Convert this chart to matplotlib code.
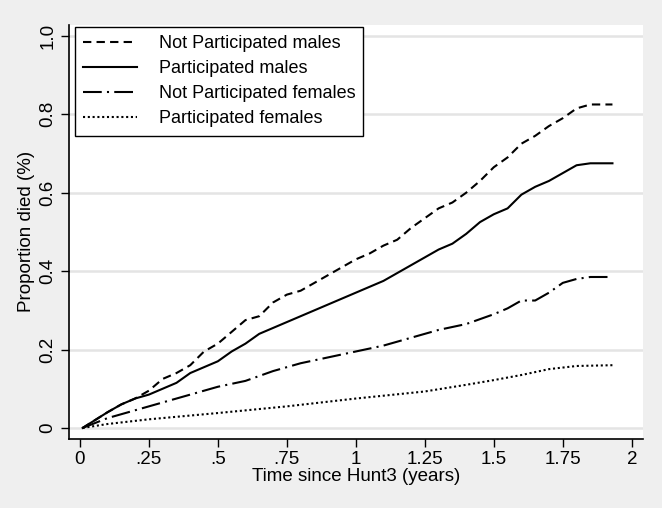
import matplotlib
matplotlib.use("Agg")
import matplotlib.pyplot as plt

plt.rcParams["font.family"] = ["Liberation Sans", "DejaVu Sans"]

# Kaplan-Meier style failure curves
t_np_m = [0.01, 0.1, 0.15, 0.2, 0.25, 0.3, 0.35, 0.4, 0.45, 0.5, 0.55, 0.6, 0.65, 0.7,
          0.75, 0.8, 0.85, 0.9, 0.95, 1.0, 1.05, 1.1, 1.15, 1.2, 1.25, 1.3, 1.35, 1.4,
          1.45, 1.5, 1.55, 1.6, 1.65, 1.7, 1.75, 1.8, 1.85, 1.93]
y_np_m = [0.0, 0.04, 0.06, 0.075, 0.095, 0.125, 0.14, 0.16, 0.195, 0.215, 0.245, 0.275,
          0.285, 0.32, 0.34, 0.35, 0.37, 0.39, 0.41, 0.43, 0.445, 0.465, 0.48, 0.51,
          0.535, 0.56, 0.575, 0.6, 0.63, 0.665, 0.69, 0.725, 0.745, 0.77, 0.79, 0.815,
          0.825, 0.825]

t_p_m = [0.01, 0.1, 0.15, 0.2, 0.25, 0.3, 0.35, 0.4, 0.45, 0.5, 0.55, 0.6, 0.65, 0.7,
         0.75, 0.8, 0.85, 0.9, 0.95, 1.0, 1.05, 1.1, 1.15, 1.2, 1.25, 1.3, 1.35, 1.4,
         1.45, 1.5, 1.55, 1.6, 1.65, 1.7, 1.75, 1.8, 1.85, 1.93]
y_p_m = [0.0, 0.04, 0.06, 0.075, 0.085, 0.1, 0.115, 0.14, 0.155, 0.17, 0.195, 0.215,
         0.24, 0.255, 0.27, 0.285, 0.3, 0.315, 0.33, 0.345, 0.36, 0.375, 0.395, 0.415,
         0.435, 0.455, 0.47, 0.495, 0.525, 0.545, 0.56, 0.595, 0.615, 0.63, 0.65, 0.67,
         0.675, 0.675]

t_np_f = [0.01, 0.1, 0.2, 0.25, 0.3, 0.4, 0.5, 0.6, 0.7, 0.75, 0.8, 0.9, 1.0, 1.1, 1.2,
          1.25, 1.3, 1.4, 1.5, 1.55, 1.6, 1.65, 1.7, 1.75, 1.8, 1.85, 1.93]
y_np_f = [0.0, 0.025, 0.045, 0.055, 0.065, 0.085, 0.105, 0.12, 0.145, 0.155, 0.165,
          0.18, 0.195, 0.21, 0.23, 0.24, 0.25, 0.265, 0.29, 0.305, 0.325, 0.325, 0.345,
          0.37, 0.38, 0.385, 0.385]

t_p_f = [0.01, 0.1, 0.25, 0.5, 0.75, 1.0, 1.25, 1.4, 1.5, 1.6, 1.7, 1.8, 1.93]
y_p_f = [0.0, 0.01, 0.022, 0.038, 0.055, 0.075, 0.093, 0.11, 0.122, 0.135, 0.15,
         0.158, 0.16]

x_ticks = [0, 0.25, 0.5, 0.75, 1, 1.25, 1.5, 1.75, 2]
x_ticklabels = ["0", ".25", ".5", ".75", "1", "1.25", "1.5", "1.75", "2"]
y_ticks = [0, 0.2, 0.4, 0.6, 0.8, 1.0]
y_ticklabels = ["0", "0.2", "0.4", "0.6", "0.8", "1.0"]

fig = plt.figure(figsize=(6.62, 5.08), dpi=100, facecolor="#efefef")
ax = fig.add_axes([0.104, 0.136, 0.867, 0.815])
ax.set_facecolor("white")

lw = 1.5
ax.plot(t_np_m, y_np_m, color="black", lw=lw, linestyle=(0, (4, 2.5)),
        label="Not Participated males")
ax.plot(t_p_m, y_p_m, color="black", lw=lw, linestyle="-",
        label="Participated males")
ax.plot(t_np_f, y_np_f, color="black", lw=lw, linestyle=(0, (9, 2.5, 1, 2.5)),
        label="Not Participated females")
ax.plot(t_p_f, y_p_f, color="black", lw=lw, linestyle=(0, (1, 1.3)),
        label="Participated females")

ax.set_xlim(-0.04, 2.04)
ax.set_ylim(-0.028, 1.028)
ax.set_xticks(x_ticks)
ax.set_xticklabels(x_ticklabels)
ax.set_yticks(y_ticks)
ax.set_yticklabels(y_ticklabels, rotation=90, va="center")
ax.tick_params(labelsize=13.5, length=6, width=1, color="black")
ax.tick_params(axis="x", pad=3)
ax.tick_params(axis="y", pad=3)

ax.grid(True, axis="y", color="#e4e4e4", linewidth=1.8)
ax.set_axisbelow(True)
for s in ("top", "right"):
    ax.spines[s].set_visible(False)
for s in ("left", "bottom"):
    ax.spines[s].set_linewidth(1.2)

ax.set_xlabel("Time since Hunt3 (years)", fontsize=13.5, labelpad=0)
ax.set_ylabel("Proportion died (%)", fontsize=13.5, labelpad=3)

leg = ax.legend(loc="upper left", bbox_to_anchor=(0.01, 0.995), fontsize=13,
                frameon=True, fancybox=False, edgecolor="black", framealpha=1,
                handlelength=3.0, handletextpad=1.2, labelspacing=0.45,
                borderpad=0.45, borderaxespad=0)
leg.get_frame().set_linewidth(1.0)

fig.savefig("out.png", dpi=100, facecolor=fig.get_facecolor())
